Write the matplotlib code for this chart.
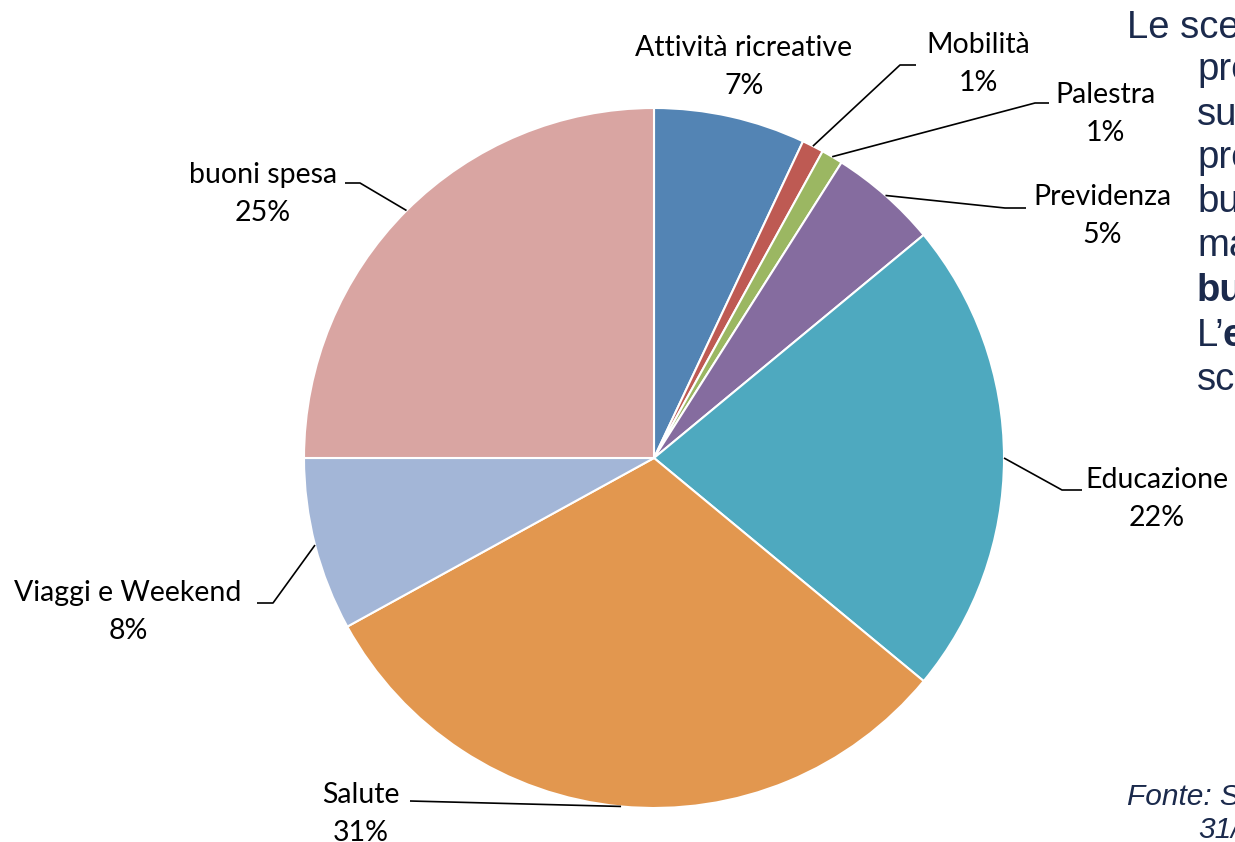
import numpy as np
import matplotlib
matplotlib.use("Agg")
import matplotlib.pyplot as plt

# Share of choices per welfare category
categories = ["Attività ricreative", "Mobilità", "Palestra", "Previdenza",
              "Educazione", "Salute", "Viaggi e Weekend", "buoni spesa"]
shares = [7, 1, 1, 5, 22, 31, 8, 25]
colors = ["#5384B4", "#BE5A53", "#9BB762", "#856C9F",
          "#4EA9BF", "#E2974F", "#A3B6D7", "#D9A5A2"]

W, H = 1235, 842
fig = plt.figure(figsize=(W / 100, H / 100), dpi=100)
ax = fig.add_axes([0, 0, 1, 1])

cx, cy, R = 654, H - 458, 350
wedges, _ = ax.pie(shares, colors=colors, startangle=90, counterclock=False,
                   center=(cx, cy), radius=R, frame=True,
                   wedgeprops=dict(edgecolor="white", linewidth=1.5))
ax.set_xlim(0, W)
ax.set_ylim(0, H)
ax.set_aspect("equal")
ax.axis("off")

label_font = dict(family=["Lato", "DejaVu Sans"], size=20.5, color="black")

# label centre (x, y of first line) and leader elbow / end points, pixel layout
layout = {
    "Attività ricreative": dict(text=(744, 48), elbow=None),
    "Mobilità": dict(text=(978, 45), elbow=(900, 65), end=(916, 65)),
    "Palestra": dict(text=(1105, 95), elbow=(1035, 103), end=(1049, 103)),
    "Previdenza": dict(text=(1102, 197), elbow=(1005, 208), end=(1026, 208)),
    "Educazione": dict(text=(1157, 480), elbow=(1062, 490), end=(1082, 490)),
    "Salute": dict(text=(361, 795), elbow=(410, 801), end=(410, 801)),
    "Viaggi e Weekend": dict(text=(128, 593), elbow=(273, 603), end=(257, 603)),
    "buoni spesa": dict(text=(263, 175), elbow=(360, 183), end=(345, 183)),
}

cum = np.cumsum([0] + shares[:-1])
for name, share, start in zip(categories, shares, cum):
    mid = np.deg2rad(90 - 360 * (start + share / 2) / sum(shares))
    px, py = cx + R * np.cos(mid), cy + R * np.sin(mid)
    lay = layout[name]
    tx, ty = lay["text"]
    ax.text(tx, H - ty, name, ha="center", va="center", **label_font)
    ax.text(tx, H - ty - 38, f"{share}%", ha="center", va="center", **label_font)
    if lay["elbow"] is not None:
        ex, ey = lay["elbow"]
        qx, qy = lay["end"]
        ax.plot([px, ex, qx], [py, H - ey, H - qy], color="black", lw=1.2,
                solid_capstyle="butt")

# side commentary text (runs off the right edge)
navy = "#1B2A4C"
side = dict(family=["Liberation Sans", "DejaVu Sans"], size=27.5, color=navy)
indent = 1197
ax.text(1127, H - 28, "Le sce", ha="left", va="center", **side)
lines = [("pre", "normal"), ("su", "normal"), ("pre", "normal"), ("bu", "normal"),
         ("ma", "normal"), ("bu", "bold")]
ys = [70, 115, 158, 202, 246, 291]
for (t, w), y in zip(lines, ys):
    ax.text(indent, H - y, t, ha="left", va="center", fontweight=w, **side)
ax.text(indent, H - 336, "L’", ha="left", va="center", **side)
ax.text(indent + 26, H - 336, "e", ha="left", va="center", fontweight="bold", **side)
ax.text(indent, H - 380, "sc", ha="left", va="center", **side)

ax.text(1127, H - 797, "Fonte: S", ha="left", va="center", style="italic",
        family=["Liberation Sans", "DejaVu Sans"], size=21.5, color=navy)
ax.text(1198, H - 830, "31/", ha="left", va="center", style="italic",
        family=["Liberation Sans", "DejaVu Sans"], size=21.5, color=navy)

fig.savefig("out.png", dpi=100, facecolor="white")
